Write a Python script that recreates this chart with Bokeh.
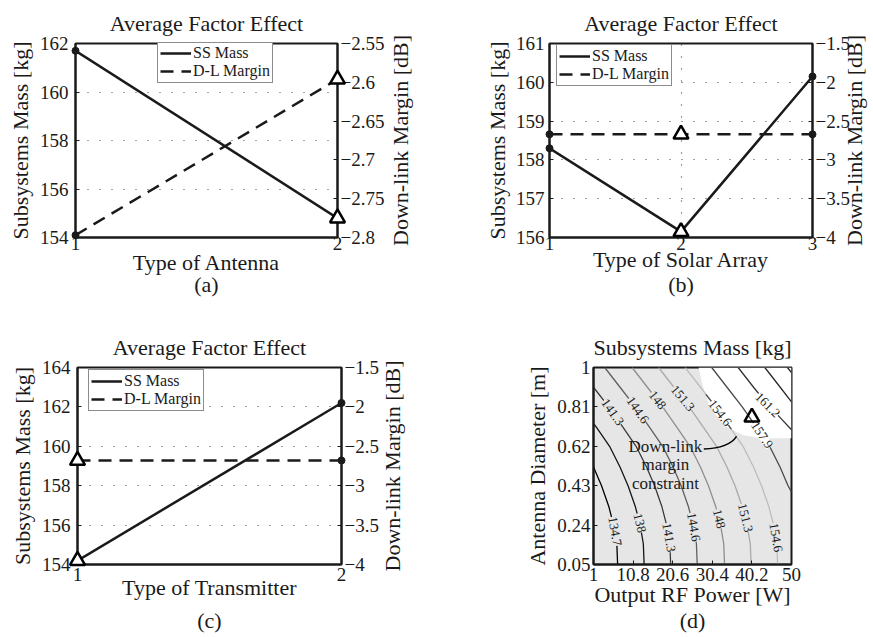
from bokeh.plotting import figure
from bokeh.layouts import column, row
from bokeh.models import Range1d, LinearAxis, FixedTicker, Legend, LegendItem
from bokeh.embed import file_html
from bokeh.resources import INLINE
from bokeh.core.properties import value

FONT = "Liberation Serif"
INK = "#1a1a1a"

# ---------------- main-effect data ----------------
ANTENNA_LEVELS = [1, 2]
ANTENNA_SS_MASS = [161.7, 154.8]
ANTENNA_DL_MARGIN = [-2.797, -2.596]
ANTENNA_BEST = 2

SOLAR_LEVELS = [1, 2, 3]
SOLAR_SS_MASS = [158.3, 156.15, 160.15]
SOLAR_DL_MARGIN = [-2.67, -2.67, -2.67]
SOLAR_BEST = 2

TX_LEVELS = [1, 2]
TX_SS_MASS = [154.2, 162.2]
TX_DL_MARGIN = [-2.68, -2.68]
TX_BEST = 1

# axis ticks / labels
A_MASS_TICKS = [154, 156, 158, 160, 162]
A_MARGIN_TICKS = [-2.8, -2.75, -2.7, -2.65, -2.6, -2.55]
A_MARGIN_LABELS = ["\u22122.8", "\u22122.75", "\u22122.7", "\u22122.65", "\u22122.6", "\u22122.55"]
B_MASS_TICKS = [156, 157, 158, 159, 160, 161]
C_MASS_TICKS = [154, 156, 158, 160, 162, 164]
BC_MARGIN_TICKS = [-4, -3.5, -3, -2.5, -2, -1.5]
BC_MARGIN_LABELS = ["\u22124", "\u22123.5", "\u22123", "\u22122.5", "\u22122", "\u22121.5"]

# ---------------- contour data (output power W, antenna diameter m) ----------------
POWER_TICKS = [1, 10.8, 20.6, 30.4, 40.2, 50]
POWER_LABELS = ["1", "10.8", "20.6", "30.4", "40.2", "50"]
DIAM_TICKS = [0.05, 0.24, 0.43, 0.62, 0.81, 1.0]
DIAM_LABELS = ["0.05", "0.24", "0.43", "0.62", "0.81", "1"]

CONTOUR_LEVELS = [134.7, 138.0, 141.3, 144.6, 148.0, 151.3, 154.6, 157.9, 161.2, 164.5, 167.8]
CONTOUR_POWER = [
    [6.97, 6.77, 5.97, 4.78, 2.99, 1.0],
    [13.53, 13.33, 12.54, 11.34, 9.55, 7.56, 4.98, 1.79, 1.0],
    [20.10, 19.90, 19.10, 17.91, 16.12, 14.13, 11.54, 8.36, 4.78, 1.19, 1.0],
    [26.67, 26.47, 25.67, 24.48, 22.69, 20.70, 18.11, 14.93, 11.34, 7.76, 3.78],
    [33.43, 33.23, 32.44, 31.24, 29.45, 27.46, 24.88, 21.69, 18.11, 14.53, 10.55],
    [40.00, 39.80, 39.00, 37.81, 36.02, 34.03, 31.44, 28.26, 24.68, 21.09, 17.11],
    [46.57, 46.37, 45.57, 44.38, 42.59, 40.60, 38.01, 34.83, 31.24, 27.66, 23.68],
    [50.0, 49.15, 47.16, 44.58, 41.39, 37.81, 34.23, 30.25],
    [50.0, 47.6, 44.2, 40.8, 36.8],
    [50.0, 47.4, 43.4],
    [49.0, 50.0],
]
CONTOUR_DIAM = [
    [0.05, 0.15, 0.24, 0.33, 0.43, 0.52],
    [0.05, 0.15, 0.24, 0.33, 0.43, 0.52, 0.62, 0.71, 0.73],
    [0.05, 0.15, 0.24, 0.33, 0.43, 0.52, 0.62, 0.71, 0.81, 0.90, 0.905],
    [0.05, 0.15, 0.24, 0.33, 0.43, 0.52, 0.62, 0.71, 0.81, 0.90, 1.0],
    [0.05, 0.15, 0.24, 0.33, 0.43, 0.52, 0.62, 0.71, 0.81, 0.90, 1.0],
    [0.05, 0.15, 0.24, 0.33, 0.43, 0.52, 0.62, 0.71, 0.81, 0.90, 1.0],
    [0.05, 0.15, 0.24, 0.33, 0.43, 0.52, 0.62, 0.71, 0.81, 0.90, 1.0],
    [0.40, 0.43, 0.52, 0.62, 0.71, 0.81, 0.90, 1.0],
    [0.70, 0.75, 0.82, 0.90, 1.0],
    [0.834, 0.90, 1.0],
    [1.0, 0.975],
]
# part of the 154.6 kg contour lying inside the feasible (white) region
FEASIBLE_1546_POWER = [28.8, 31.24, 34.83, 35.1]
FEASIBLE_1546_DIAM = [0.87, 0.81, 0.71, 0.703]

# boundary of the region satisfying the down-link margin constraint
FEASIBLE_POWER = [27.0, 28.0, 29.2, 30.7, 33.7, 37.9, 42.3, 50.0, 50.0]
FEASIBLE_DIAM = [1.0, 0.914, 0.842, 0.784, 0.717, 0.674, 0.659, 0.659, 1.0]

OPT_POWER = [40.2]
OPT_DIAM = [0.76]

LABEL_TEXT = ["134.7", "138", "141.3", "144.6", "148", "151.3", "154.6",
              "141.3", "144.6", "148", "151.3"]
LABEL_TEXT_FEASIBLE = ["154.6", "157.9", "161.2"]

# label placement along the lines
LABEL_X = [6.24, 12.41, 19.63, 25.76, 32.04, 38.54, 46.1, 5.71, 11.91, 16.84, 23.04]
LABEL_Y = [0.21, 0.25, 0.18, 0.23, 0.27, 0.275, 0.18, 0.784, 0.794, 0.842, 0.851]
LABEL_ANGLE = [-80, -76, -80, -80, -76, -76, -80, -55, -55, -52, -50]
LABEL_X_FEAS = [32.3, 42.67, 44.06]
LABEL_Y_FEAS = [0.78, 0.674, 0.818]
LABEL_ANGLE_FEAS = [-52, -57, -45]

LINE_COLORS = ["#000000", "#151515", "#3a3a3a", "#5f5f5f", "#8e8e8e", "#aaaaaa",
               "#bdbdbd", "#4a4a4a", "#333333", "#2a2a2a", "#222222"]
SHADE = "#e6e6e6"
BIG = "22px"


def style_axis(ax, ticks, labels, tick_size="19px"):
    ax.ticker = FixedTicker(ticks=ticks)
    ax.major_label_overrides = {t: l for t, l in zip(ticks, labels)}
    ax.axis_line_width = 2
    ax.axis_line_color = INK
    ax.major_tick_in = 4
    ax.major_tick_out = 0
    ax.major_tick_line_color = INK
    ax.minor_tick_line_color = None
    ax.major_label_text_font = FONT
    ax.major_label_text_font_size = tick_size
    ax.major_label_text_color = INK
    ax.axis_label_text_font = FONT
    ax.axis_label_text_font_size = BIG
    ax.axis_label_text_font_style = "normal"
    ax.axis_label_text_color = INK
    ax.major_label_standoff = 3
    ax.axis_label_standoff = 2


def style_title(p):
    p.title.text_font = FONT
    p.title.text_font_size = BIG
    p.title.text_font_style = "normal"
    p.title.text_color = INK
    p.title.align = "center"
    p.title.standoff = (p.title.standoff or 0) + 6


def bottom_label(ax, text, tick_standoff, standoff, line_height):
    # axis title and panel caption share the area under the frame
    ax.axis_label = text
    ax.major_label_standoff = tick_standoff
    ax.axis_label_standoff = standoff
    ax.axis_label_text_line_height = line_height


def effect_panel(levels, mass, margin, best, mass_lim, mass_ticks, margin_ticks,
                 margin_labels, xlabel, caption, size, border, legend_xy, below,
                 left_standoffs, right_dx):
    p = figure(width=size[0], height=size[1], output_backend="svg", toolbar_location=None,
               x_range=Range1d(levels[0], levels[-1]), y_range=Range1d(*mass_lim),
               min_border_left=border[0], min_border_right=border[1],
               min_border_top=border[2], min_border_bottom=border[3],
               title="Average Factor Effect")
    p.extra_y_ranges = {"margin": Range1d(margin_ticks[0], margin_ticks[-1])}
    style_title(p)
    p.outline_line_color = INK
    p.outline_line_width = 2

    style_axis(p.xaxis[0], levels, [str(v) for v in levels])
    bottom_label(p.xaxis[0], xlabel + "\n" + caption, *below)
    style_axis(p.yaxis[0], mass_ticks, [str(v) for v in mass_ticks])
    p.yaxis.axis_label = "Subsystems Mass [kg]"
    p.yaxis.major_label_standoff = left_standoffs[0]
    p.yaxis.axis_label_standoff = left_standoffs[1]
    right = LinearAxis(y_range_name="margin")
    style_axis(right, margin_ticks, margin_labels)
    p.add_layout(right, "right")

    # right-hand axis title, reading upwards like the left one
    p.text([levels[-1]], [(mass_lim[0] + mass_lim[1]) / 2], text=["Down-link Margin [dB]"],
           angle=90, angle_units="deg", x_offset=right_dx, text_align="center",
           text_baseline="middle", text_font=value(FONT), text_font_size=BIG,
           text_color=INK, level="overlay")

    for g in (p.xgrid[0], p.ygrid[0]):
        g.grid_line_color = "#444444"
        g.grid_line_dash = "1 11"
        g.grid_line_width = 1.2
    p.xgrid.ticker = FixedTicker(ticks=levels)
    p.ygrid.ticker = FixedTicker(ticks=mass_ticks)

    mass_line = p.line(levels, mass, line_color=INK, line_width=2.5)
    margin_line = p.line(levels, margin, y_range_name="margin", line_color=INK,
                         line_width=2.5, line_dash="13 8")

    other = [i for i, v in enumerate(levels) if v != best]
    top = [i for i, v in enumerate(levels) if v == best]
    p.scatter([levels[i] for i in other], [mass[i] for i in other], marker="circle",
              size=7, color=INK, level="overlay")
    p.scatter([levels[i] for i in other], [margin[i] for i in other], marker="circle",
              size=7, color=INK, y_range_name="margin", level="overlay")
    p.scatter([levels[i] for i in top], [mass[i] for i in top], marker="triangle",
              size=15, line_color="black", line_width=2.5, fill_color="white", level="overlay")
    p.scatter([levels[i] for i in top], [margin[i] for i in top], marker="triangle",
              size=15, line_color="black", line_width=2.5, fill_color="white",
              y_range_name="margin", level="overlay")

    legend = Legend(items=[LegendItem(label="SS Mass", renderers=[mass_line]),
                           LegendItem(label="D-L Margin", renderers=[margin_line])],
                    location=legend_xy, label_text_font=FONT, label_text_font_size="16px",
                    label_text_color=INK, border_line_color=INK, border_line_width=1.2,
                    padding=2, spacing=0, margin=0, glyph_width=31, glyph_height=16,
                    label_height=16, label_standoff=2, background_fill_alpha=1)
    p.add_layout(legend)
    return p


pa = effect_panel(ANTENNA_LEVELS, ANTENNA_SS_MASS, ANTENNA_DL_MARGIN, ANTENNA_BEST,
                  (154, 162), A_MASS_TICKS, A_MARGIN_TICKS, A_MARGIN_LABELS,
                  "Type of Antenna", "(a)", (430, 300), (75, 93, 40, 63), (82, 154),
                  (-1, -3, 0.9), (7, 4), 63)
pb = effect_panel(SOLAR_LEVELS, SOLAR_SS_MASS, SOLAR_DL_MARGIN, SOLAR_BEST,
                  (156, 161), B_MASS_TICKS, BC_MARGIN_TICKS, BC_MARGIN_LABELS,
                  "Type of Solar Array", "(b)", (443, 300), (119, 61, 39, 63), (7, 151),
                  (-1, -6, 1.02), (5, 3), 42)
pc = effect_panel(TX_LEVELS, TX_SS_MASS, TX_DL_MARGIN, TX_BEST,
                  (154, 164), C_MASS_TICKS, BC_MARGIN_TICKS, BC_MARGIN_LABELS,
                  "Type of Transmitter", "(c)", (430, 337), (77, 89, 67, 73), (11, 153),
                  (3, -9, 1.35), (7, 4), 51)

# ---------------- contour panel ----------------
pd_ = figure(width=443, height=337, output_backend="svg", toolbar_location=None,
             x_range=Range1d(1, 50), y_range=Range1d(0.05, 1.0),
             min_border_left=163, min_border_right=82, min_border_top=67, min_border_bottom=72,
             title="Subsystems Mass [kg]")
style_title(pd_)
pd_.background_fill_color = SHADE
pd_.outline_line_color = INK
pd_.outline_line_width = 2
pd_.grid.visible = False
style_axis(pd_.xaxis[0], POWER_TICKS, POWER_LABELS)
bottom_label(pd_.xaxis[0], "Output RF Power [W]\n(d)", 3, -2, 1.04)
style_axis(pd_.yaxis[0], DIAM_TICKS, DIAM_LABELS)
pd_.yaxis.axis_label = "Antenna Diameter [m]"
pd_.yaxis.axis_label_standoff = 4

pd_.patch(FEASIBLE_POWER, FEASIBLE_DIAM, fill_color="white", line_color=None)
for xs, ys, col in zip(CONTOUR_POWER[:7], CONTOUR_DIAM[:7], LINE_COLORS[:7]):
    pd_.line(xs, ys, line_color=col, line_width=1.3)
pd_.line(FEASIBLE_1546_POWER, FEASIBLE_1546_DIAM, line_color="#4a4a4a", line_width=1.3)
for xs, ys, col in zip(CONTOUR_POWER[7:], CONTOUR_DIAM[7:], LINE_COLORS[7:]):
    pd_.line(xs, ys, line_color=col, line_width=1.3)

pd_.text(LABEL_X, LABEL_Y, text=LABEL_TEXT, angle=LABEL_ANGLE, angle_units="deg",
         text_align="center", text_baseline="middle", text_font=value(FONT),
         text_font_size="13px", text_color=INK, background_fill_color=SHADE)
pd_.text(LABEL_X_FEAS, LABEL_Y_FEAS, text=LABEL_TEXT_FEASIBLE, angle=LABEL_ANGLE_FEAS,
         angle_units="deg", text_align="center", text_baseline="middle",
         text_font=value(FONT), text_font_size="13px", text_color=INK,
         background_fill_color="white")

pd_.text([18.8], [0.53], text=["Down-link\nmargin\nconstraint"], text_align="center",
         text_baseline="middle", text_font=value(FONT), text_font_size="17px",
         text_color=INK, text_line_height=0.95)
pd_.bezier(x0=[28.3], y0=[0.607], x1=[36.4], y1=[0.668], cx0=[33.0], cy0=[0.61],
           cx1=[35.3], cy1=[0.635], line_color="black", line_width=1.5)
pd_.scatter(OPT_POWER, OPT_DIAM, marker="triangle", size=15, line_color="black",
            line_width=2.5, fill_color=None, level="overlay")

layout = column(row(pa, pb), row(pc, pd_))
open("out.html", "w").write(file_html(layout, INLINE))
